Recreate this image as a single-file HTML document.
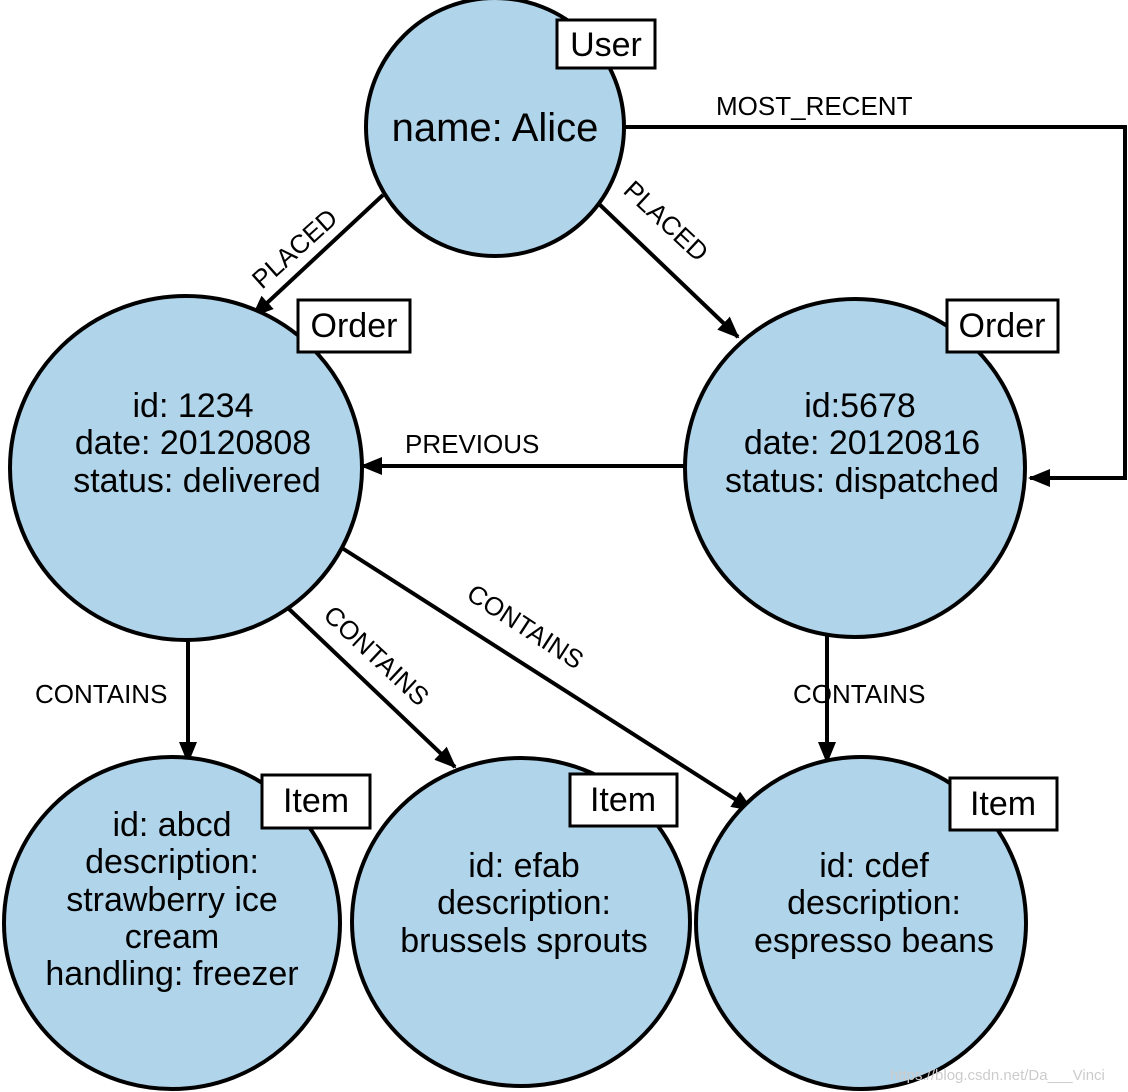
<!DOCTYPE html>
<html><head><style>body{margin:0;background:#fff}svg{display:block}text{font-family:"Liberation Sans",sans-serif;fill:#000}</style></head><body>
<svg width="1128" height="1092" viewBox="0 0 1128 1092" xmlns="http://www.w3.org/2000/svg">
<defs><marker id="a" markerWidth="10" markerHeight="10" refX="9" refY="5" orient="auto" markerUnits="userSpaceOnUse" viewBox="0 0 10 10"><path d="M0,0 L10,5 L0,10 z" fill="#000"/></marker>
<marker id="b" markerWidth="22" markerHeight="22" refX="20" refY="11" orient="auto" markerUnits="userSpaceOnUse"><path d="M0,2 L22,11 L0,20 z" fill="#000"/></marker></defs>
<g stroke="#000" stroke-width="4" fill="none">
<polyline points="625,127 1125,127 1125,478 1030,478" marker-end="url(#b)"/>
<line x1="383" y1="195" x2="253" y2="316" marker-end="url(#b)"/>
<line x1="598" y1="203" x2="738" y2="337" marker-end="url(#b)"/>
<line x1="686" y1="466" x2="362" y2="466" marker-end="url(#b)"/>
<line x1="188" y1="640" x2="188" y2="762" marker-end="url(#b)"/>
<line x1="288" y1="608" x2="455" y2="767" marker-end="url(#b)"/>
<line x1="342" y1="548" x2="752" y2="810" marker-end="url(#b)"/>
<line x1="827" y1="632" x2="827" y2="762" marker-end="url(#b)"/>
</g>
<g fill="#b0d4ea" stroke="#000" stroke-width="4">
<circle cx="495" cy="127" r="129"/>
<ellipse cx="186" cy="468" rx="176" ry="172"/>
<ellipse cx="855" cy="468" rx="170" ry="169"/>
<ellipse cx="172" cy="923" rx="168" ry="166"/>
<ellipse cx="521" cy="922" rx="169" ry="164"/>
<ellipse cx="861" cy="923" rx="165" ry="166"/>
</g>
<g fill="#fff" stroke="#000" stroke-width="3">
<rect x="557" y="20" width="98" height="48"/>
<rect x="298" y="300" width="112" height="52"/>
<rect x="947" y="300" width="111" height="52"/>
<rect x="262" y="775" width="108" height="53"/>
<rect x="570" y="774" width="107" height="52"/>
<rect x="950" y="778" width="107" height="52"/>
</g>
<g font-size="34" text-anchor="middle">
<text x="606" y="56">User</text>
<text x="354" y="337">Order</text>
<text x="1002" y="337">Order</text>
<text x="316" y="812">Item</text>
<text x="623" y="811">Item</text>
<text x="1003" y="815">Item</text>
<text x="495" y="141" font-size="40">name: Alice</text>
<text x="193" y="417">id: 1234</text><text x="193" y="454">date: 20120808</text><text x="197" y="492">status: delivered</text>
<text x="860" y="417">id:5678</text><text x="862" y="454">date: 20120816</text><text x="862" y="492">status: dispatched</text>
<text x="172" y="836">id: abcd</text><text x="172" y="873">description:</text><text x="172" y="911">strawberry ice</text><text x="172" y="948">cream</text><text x="172" y="985">handling: freezer</text>
<text x="524" y="877">id: efab</text><text x="524" y="914">description:</text><text x="524" y="952">brussels sprouts</text>
<text x="874" y="877">id: cdef</text><text x="874" y="914">description:</text><text x="874" y="952">espresso beans</text>
</g>
<g font-size="26">
<text x="716" y="115">MOST_RECENT</text>
<text x="405" y="453">PREVIOUS</text>
<text x="35" y="703">CONTAINS</text>
<text x="793" y="703">CONTAINS</text>
<text transform="translate(262,290) rotate(-42)">PLACED</text>
<text transform="translate(622,192) rotate(43)">PLACED</text>
<text transform="translate(322,617) rotate(43)">CONTAINS</text>
<text transform="translate(465,598) rotate(33)">CONTAINS</text>
</g>
<text x="890" y="1080" font-size="15" fill="#ccc" style="fill:#ccc">https://blog.csdn.net/Da___Vinci</text>
</svg>
</body></html>
